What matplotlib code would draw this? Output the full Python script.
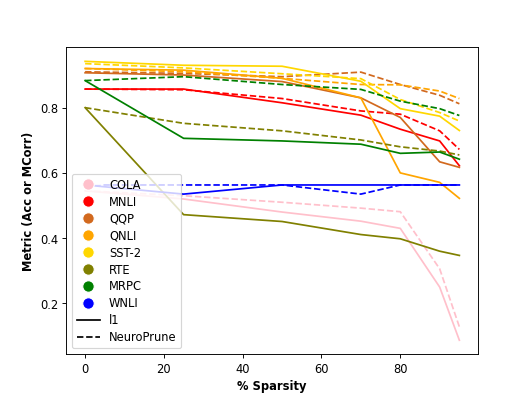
import matplotlib.pyplot as plt
from matplotlib.lines import Line2D

sparsity = [0, 25, 50, 70, 80, 90, 95]

tasks = ['COLA', 'MNLI', 'QQP', 'QNLI', 'SST-2', 'RTE', 'MRPC', 'WNLI']
colors = ['pink', 'red', 'chocolate', 'orange', 'gold', 'olive', 'green', 'blue']

# l1 pruning results
l1 = {
    'COLA':  [0.545, 0.52, 0.48, 0.452, 0.43, 0.25, 0.087],
    'MNLI':  [0.857, 0.857, 0.815, 0.777, 0.734, 0.698, 0.622],
    'QQP':   [0.907, 0.90, 0.88, 0.83, 0.77, 0.634, 0.617],
    'QNLI':  [0.92, 0.915, 0.89, 0.83, 0.60, 0.571, 0.522],
    'SST-2': [0.942, 0.93, 0.927, 0.881, 0.797, 0.774, 0.73],
    'RTE':   [0.80, 0.472, 0.451, 0.411, 0.398, 0.36, 0.347],
    'MRPC':  [0.883, 0.706, 0.698, 0.688, 0.66, 0.664, 0.642],
    'WNLI':  [0.563, 0.535, 0.563, 0.563, 0.563, 0.563, 0.563],
}

# NeuroPrune results
neuroprune = {
    'COLA':  [0.545, 0.53, 0.51, 0.492, 0.481, 0.306, 0.128],
    'MNLI':  [0.857, 0.855, 0.828, 0.79, 0.78, 0.729, 0.672],
    'QQP':   [0.91, 0.905, 0.895, 0.909, 0.871, 0.838, 0.812],
    'QNLI':  [0.92, 0.91, 0.89, 0.871, 0.87, 0.851, 0.828],
    'SST-2': [0.935, 0.922, 0.904, 0.889, 0.825, 0.785, 0.759],
    'RTE':   [0.80, 0.752, 0.729, 0.701, 0.68, 0.667, 0.655],
    'MRPC':  [0.883, 0.895, 0.871, 0.856, 0.82, 0.797, 0.776],
    'WNLI':  [0.563, 0.563, 0.563, 0.535, 0.563, 0.563, 0.563],
}

fig, ax = plt.subplots(figsize=(6.4, 4.8), dpi=83)

for t, c in zip(tasks, colors):
    ax.plot(sparsity, l1[t], color=c, linestyle='-')
    ax.plot(sparsity, neuroprune[t], color=c, linestyle='--')

handles = [Line2D([0], [0], marker='o', color='w', markerfacecolor=c,
                  markersize=10, label=t) for t, c in zip(tasks, colors)]
handles.append(Line2D([0], [0], color='black', linestyle='-', label='l1'))
handles.append(Line2D([0], [0], color='black', linestyle='--', label='NeuroPrune'))
ax.legend(handles=handles, loc='lower left', labelspacing=0.34)

ax.set_xlabel('% Sparsity', fontweight='bold')
ax.set_ylabel('Metric (Acc or MCorr)', fontweight='bold')

fig.savefig('out.png', dpi=83)
